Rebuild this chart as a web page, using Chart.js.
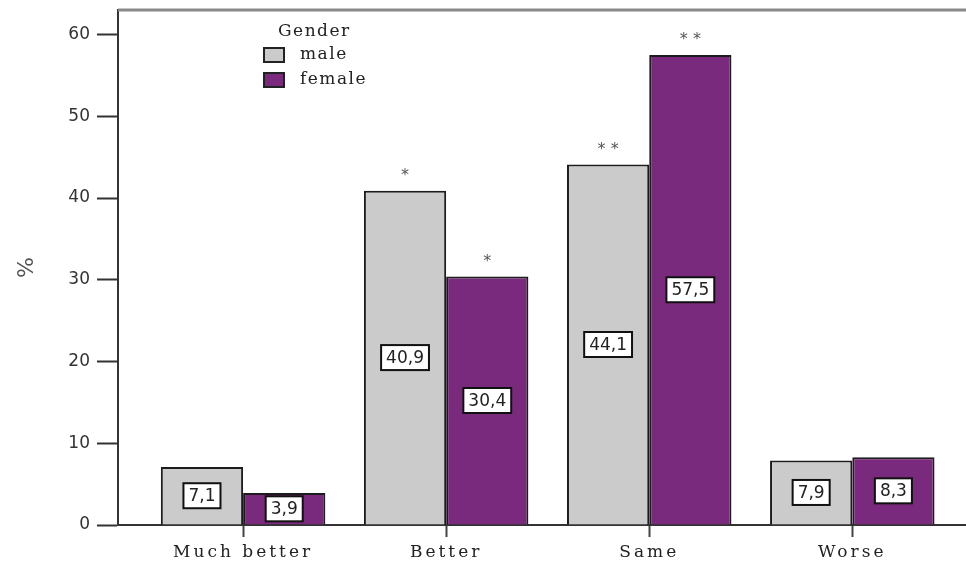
<!DOCTYPE html>
<html>
<head>
<meta charset="utf-8">
<script src="https://cdn.jsdelivr.net/npm/chart.js@4"></script>
<style>
    html, body { margin: 0; padding: 0; background: #fff; }
    canvas { display: block; }
</style>
</head>
<body>
<canvas id="genderChart" width="966" height="561"></canvas>
<script>
const categories = ["Much better", "Better", "Same", "Worse"];
const seriesNames = ["male", "female"];
const maleValues = [7.1, 40.9, 44.1, 7.9];
const femaleValues = [3.9, 30.4, 57.5, 8.3];
// significance stars printed above each bar
const maleMarks = ["", "*", "* *", ""];
const femaleMarks = ["", "*", "* *", ""];
const yTicks = [0, 10, 20, 30, 40, 50, 60];
const legendTitle = "Gender";

const SERIF = "'DejaVu Serif', serif";
const SANS = "'DejaVu Sans', sans-serif";

const toPoints = vals => vals.map((v, i) => ({ x: i, y: v }));

/* ---------------------------
   value boxes in the middle of each bar
---------------------------- */
const valueBoxes = {
    id: "valueBoxes",
    afterDatasetsDraw(chart) {
        const ctx = chart.ctx;
        ctx.save();
        ctx.font = "17px " + SANS;
        ctx.textAlign = "center";
        ctx.textBaseline = "middle";
        chart.data.datasets.forEach((ds, di) => {
            chart.getDatasetMeta(di).data.forEach((bar, i) => {
                const txt = ds.data[i].y.toFixed(1).replace(".", ",");
                const cx = bar.x;
                const cy = (bar.y + bar.base) / 2;
                const w = ctx.measureText(txt).width + 10;
                const h = 25;
                ctx.fillStyle = "#fff";
                ctx.fillRect(cx - w / 2, cy - h / 2, w, h);
                ctx.strokeStyle = "#111";
                ctx.lineWidth = 2;
                ctx.strokeRect(cx - w / 2, cy - h / 2, w, h);
                ctx.fillStyle = "#222";
                ctx.fillText(txt, cx, cy + 1);
            });
        });
        ctx.restore();
    }
};

/* ---------------------------
   stars above bars
---------------------------- */
const sigMarks = {
    id: "sigMarks",
    afterDatasetsDraw(chart) {
        const ctx = chart.ctx;
        const marks = [maleMarks, femaleMarks];
        ctx.save();
        ctx.font = "16px " + SANS;
        ctx.fillStyle = "#555";
        ctx.textAlign = "center";
        ctx.textBaseline = "middle";
        marks.forEach((list, di) => {
            chart.getDatasetMeta(di).data.forEach((bar, i) => {
                if (list[i]) ctx.fillText(list[i], bar.x, bar.y - 15);
            });
        });
        ctx.restore();
    }
};

/* ---------------------------
   legend block + top frame line
---------------------------- */
const genderLegend = {
    id: "genderLegend",
    beforeDraw(chart) {
        // wider tracking for the category names
        const xs = chart.scales.x;
        if (!xs._tracked) {
            const orig = xs.drawLabels.bind(xs);
            xs.drawLabels = function (area) {
                const c = this.ctx;
                c.save();
                c.letterSpacing = "3px";
                orig(area);
                c.restore();
            };
            xs._tracked = true;
        }
    },
    afterDraw(chart) {
        const ctx = chart.ctx;
        const area = chart.chartArea;
        ctx.save();
        ctx.strokeStyle = "#8a8a8a";
        ctx.lineWidth = 3;
        ctx.beginPath();
        ctx.moveTo(area.left, area.top);
        ctx.lineTo(area.right, area.top);
        ctx.stroke();

        ctx.letterSpacing = "1.5px";
        ctx.font = "17px " + SERIF;
        ctx.fillStyle = "#222";
        ctx.textBaseline = "middle";
        ctx.textAlign = "left";
        ctx.fillText(legendTitle, 278, 32);
        chart.data.datasets.forEach((ds, i) => {
            const y = 55 + i * 25;
            ctx.fillStyle = ds.backgroundColor;
            ctx.fillRect(264, y - 7, 20, 14);
            ctx.strokeStyle = "#222";
            ctx.lineWidth = 2;
            ctx.strokeRect(264, y - 7, 20, 14);
            ctx.fillStyle = "#222";
            ctx.fillText(ds.label, 300, y);
        });
        ctx.restore();
    }
};

new Chart(document.getElementById("genderChart"), {
    type: "bar",
    data: {
        datasets: [{
            label: seriesNames[0],
            data: toPoints(maleValues),
            backgroundColor: "#cbcbcb",
            borderColor: "#1c1c1c",
            borderWidth: 2
        }, {
            label: seriesNames[1],
            data: toPoints(femaleValues),
            backgroundColor: "#7a2a7c",
            borderColor: "#1c1c1c",
            borderWidth: 2
        }]
    },
    options: {
        responsive: false,
        animation: false,
        devicePixelRatio: 1,
        layout: { padding: { top: 10, right: 0, left: 0, bottom: 0 } },
        datasets: {
            bar: { categoryPercentage: 0.81, barPercentage: 1.0 }
        },
        plugins: {
            legend: { display: false },
            tooltip: { enabled: false }
        },
        scales: {
            x: {
                type: "linear",
                min: -0.616,
                max: 3.56,
                offset: false,
                afterFit: s => { s.height = 36; },
                afterBuildTicks: s => { s.ticks = categories.map((_, i) => ({ value: i })); },
                ticks: {
                    stepSize: 1,
                    includeBounds: false,
                    autoSkip: false,
                    maxRotation: 0,
                    padding: 5,
                    color: "#222",
                    font: { family: SERIF, size: 17 },
                    callback: v => categories[v] ?? ""
                },
                grid: {
                    offset: false,
                    drawOnChartArea: false,
                    tickLength: 12,
                    tickWidth: 2,
                    tickColor: "#444"
                },
                border: { color: "#333", width: 2 }
            },
            y: {
                min: 0,
                max: 63,
                afterFit: s => { s.width = 118; s.paddingTop = 0; s.paddingBottom = 0; },
                afterBuildTicks: s => { s.ticks = yTicks.map(v => ({ value: v })); },
                ticks: {
                    padding: 7,
                    color: "#333",
                    font: { family: SANS, size: 17 }
                },
                grid: {
                    drawOnChartArea: false,
                    tickLength: 21,
                    tickWidth: 2,
                    tickColor: "#333"
                },
                border: { color: "#333", width: 2 },
                title: {
                    display: true,
                    text: "%",
                    color: "#555",
                    font: { family: SANS, size: 22 },
                    padding: { top: 14, bottom: 0 }
                }
            }
        }
    },
    plugins: [valueBoxes, sigMarks, genderLegend]
});
</script>
</body>
</html>
